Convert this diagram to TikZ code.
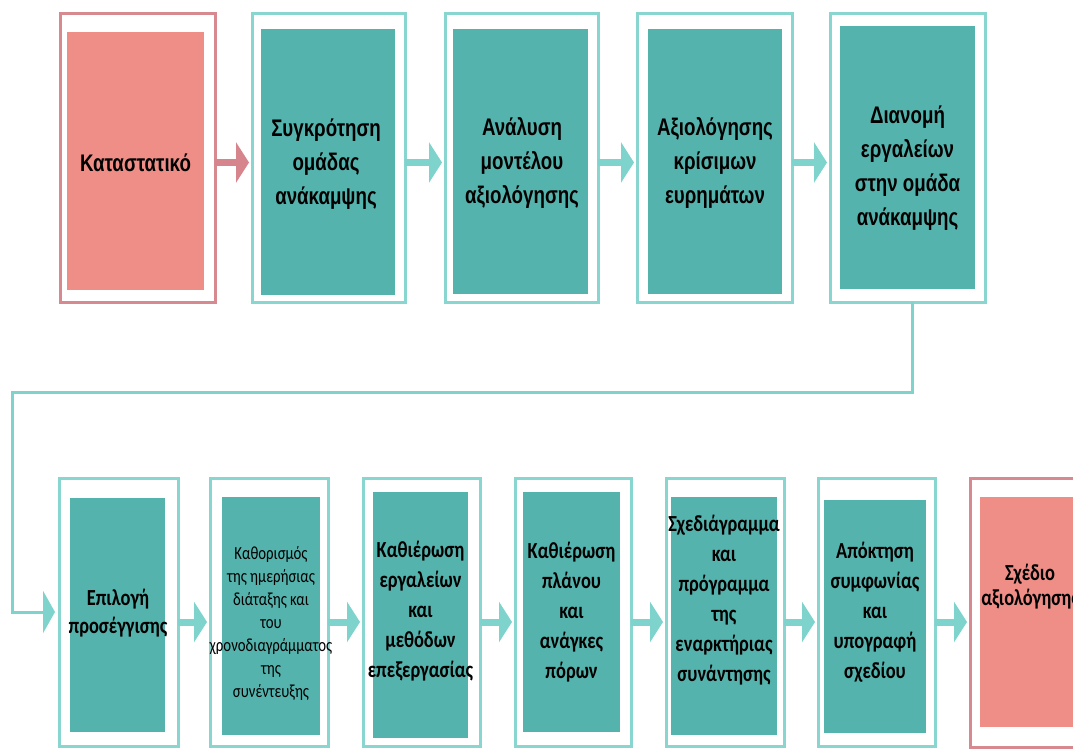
\documentclass[tikz,border=0pt]{standalone}
\usepackage{fontspec}
\setmainfont{Carlito}
\newfontfamily\topfont[FakeStretch=0.78]{Liberation Sans}
\newfontfamily\botfont[FakeStretch=0.8]{Carlito}
\usetikzlibrary{arrows.meta}
\definecolor{tealfill}{HTML}{55B3AD}
\definecolor{tealline}{HTML}{88D6CF}
\definecolor{pinkfill}{HTML}{EE8E87}
\definecolor{pinkline}{HTML}{D78990}
\definecolor{pinkarrow}{HTML}{D7858C}
\definecolor{tealarrow}{HTML}{7ED4CC}
\begin{document}
\begin{tikzpicture}[x=1pt,y=-1pt,
  outerT/.style={draw=tealline, line width=3pt, fill=white, inner sep=0pt, outer sep=0pt},
  outerP/.style={outerT, draw=pinkline},
  innerT/.style={fill=tealfill, inner sep=0pt, outer sep=0pt},
  innerP/.style={fill=pinkfill, inner sep=0pt, outer sep=0pt},
  toptext/.style={font=\topfont\bfseries\fontsize{24}{34}\selectfont, align=center, inner sep=0pt, text=black},
  bottext/.style={font=\botfont\bfseries\fontsize{23}{30}\selectfont, align=center, inner sep=0pt, text=black},
  smalltext/.style={font=\botfont\fontsize{18.5}{23}\selectfont, align=center, inner sep=0pt, text=black},
  flow/.style={draw=tealarrow, line width=7pt, -{Triangle[width=40pt,length=13pt]}, shorten >=3pt},
  conn/.style={draw=tealarrow, line width=3pt, -{Triangle[width=42pt,length=12pt]}, shorten >=4pt}]
\clip (0,0) rectangle (1073,748);
\fill[white] (0,0) rectangle (1073,748);
% top row outer
\node[outerP, minimum width=155, minimum height=289] (o1) at (137.5,157.5) {};
\node[outerT, minimum width=153, minimum height=289] (o2) at (328.5,157.5) {};
\node[outerT, minimum width=153, minimum height=289] (o3) at (521.5,157.5) {};
\node[outerT, minimum width=155, minimum height=289] (o4) at (714.5,157.5) {};
\node[outerT, minimum width=155, minimum height=289] (o5) at (907.5,157.5) {};
% top row inner
\node[innerP, minimum width=137, minimum height=258] (i1) at (135.5,161) {};
\node[innerT, minimum width=134, minimum height=266] (i2) at (328,162) {};
\node[innerT, minimum width=135, minimum height=265] (i3) at (520.5,161.5) {};
\node[innerT, minimum width=134, minimum height=265] (i4) at (715,161.5) {};
\node[innerT, minimum width=135, minimum height=263] (i5) at (907.5,157.5) {};
% top texts
\node[toptext] (t1) at (135.5,163) {Καταστατικό};
\node[toptext] (t2) at (326,164) {Συγκρότηση\\ομάδας\\ανάκαμψης};
\node[toptext] (t3) at (522,163) {Ανάλυση\\μοντέλου\\αξιολόγησης};
\node[toptext] (t4) at (715,163) {Αξιολόγησης\\κρίσιμων\\ευρημάτων};
\node[toptext] (t5) at (907.5,168) {Διανομή\\εργαλείων\\στην ομάδα\\ανάκαμψης};
% bottom row outer
\node[outerT, minimum width=119, minimum height=268] (o6) at (118.5,612) {};
\node[outerT, minimum width=118, minimum height=268] (o7) at (269,612) {};
\node[outerT, minimum width=117, minimum height=268] (o8) at (421.5,612) {};
\node[outerT, minimum width=116, minimum height=268] (o9) at (573,612) {};
\node[outerT, minimum width=118, minimum height=268] (o10) at (725,612) {};
\node[outerT, minimum width=117, minimum height=268] (o11) at (876.5,612) {};
\node[outerP, minimum width=120, minimum height=269] (o12) at (1030,612.5) {};
% bottom row inner
\node[innerT, minimum width=95, minimum height=234] (i6) at (117.5,615) {};
\node[innerT, minimum width=98, minimum height=238] (i7) at (271,616) {};
\node[innerT, minimum width=95, minimum height=246] (i8) at (420.5,615) {};
\node[innerT, minimum width=97, minimum height=240] (i9) at (571.5,612) {};
\node[innerT, minimum width=106, minimum height=238] (i10) at (724,616) {};
\node[innerT, minimum width=102, minimum height=233] (i11) at (875,616.5) {};
\node[innerP, minimum width=100, minimum height=230] (i12) at (1030,612) {};
% bottom texts
\node[bottext, font=\botfont\bfseries\fontsize{23}{28}\selectfont] (t6) at (118,613) {Επιλογή\\προσέγγισης};
\node[smalltext] (t7) at (271,623) {Καθορισμός\\της ημερήσιας\\διάταξης και\\του\\χρονοδιαγράμματος\\της\\συνέντευξης};
\node[bottext] (t8) at (420.5,611) {Καθιέρωση\\εργαλείων\\και\\μεθόδων\\επεξεργασίας};
\node[bottext] (t9) at (571.5,612) {Καθιέρωση\\πλάνου\\και\\ανάγκες\\πόρων};
\node[bottext] (t10) at (724,600) {Σχεδιάγραμμα\\και\\πρόγραμμα\\της\\εναρκτήριας\\συνάντησης};
\node[bottext, font=\botfont\bfseries\fontsize{23}{25}\selectfont] (t12) at (1030,587) {Σχέδιο\\αξιολόγησης};
\node[bottext] (t11) at (875,612) {Απόκτηση\\συμφωνίας\\και\\υπογραφή\\σχεδίου};
% top arrows
\draw[flow, draw=pinkarrow] ([yshift=-5pt]o1.east) -- ([yshift=-5pt]o1.east -| o2.west);
\draw[flow] ([yshift=-5pt]o2.east) -- ([yshift=-5pt]o2.east -| o3.west);
\draw[flow] ([yshift=-5pt]o3.east) -- ([yshift=-5pt]o3.east -| o4.west);
\draw[flow] ([yshift=-5pt]o4.east) -- ([yshift=-5pt]o4.east -| o5.west);
% connector
\coordinate (k1) at (12,392);
\draw[conn] ([xshift=4.5pt]o5.south) |- (k1) |- (o6.west);
% bottom arrows
\draw[flow] ([yshift=-10pt]o6.east) -- ([yshift=-10pt]o6.east -| o7.west);
\draw[flow] ([yshift=-10pt]o7.east) -- ([yshift=-10pt]o7.east -| o8.west);
\draw[flow] ([yshift=-10pt]o8.east) -- ([yshift=-10pt]o8.east -| o9.west);
\draw[flow] ([yshift=-10pt]o9.east) -- ([yshift=-10pt]o9.east -| o10.west);
\draw[flow] ([yshift=-10pt]o10.east) -- ([yshift=-10pt]o10.east -| o11.west);
\draw[flow] ([yshift=-10pt]o11.east) -- ([yshift=-10pt]o11.east -| o12.west);
\end{tikzpicture}
\end{document}
